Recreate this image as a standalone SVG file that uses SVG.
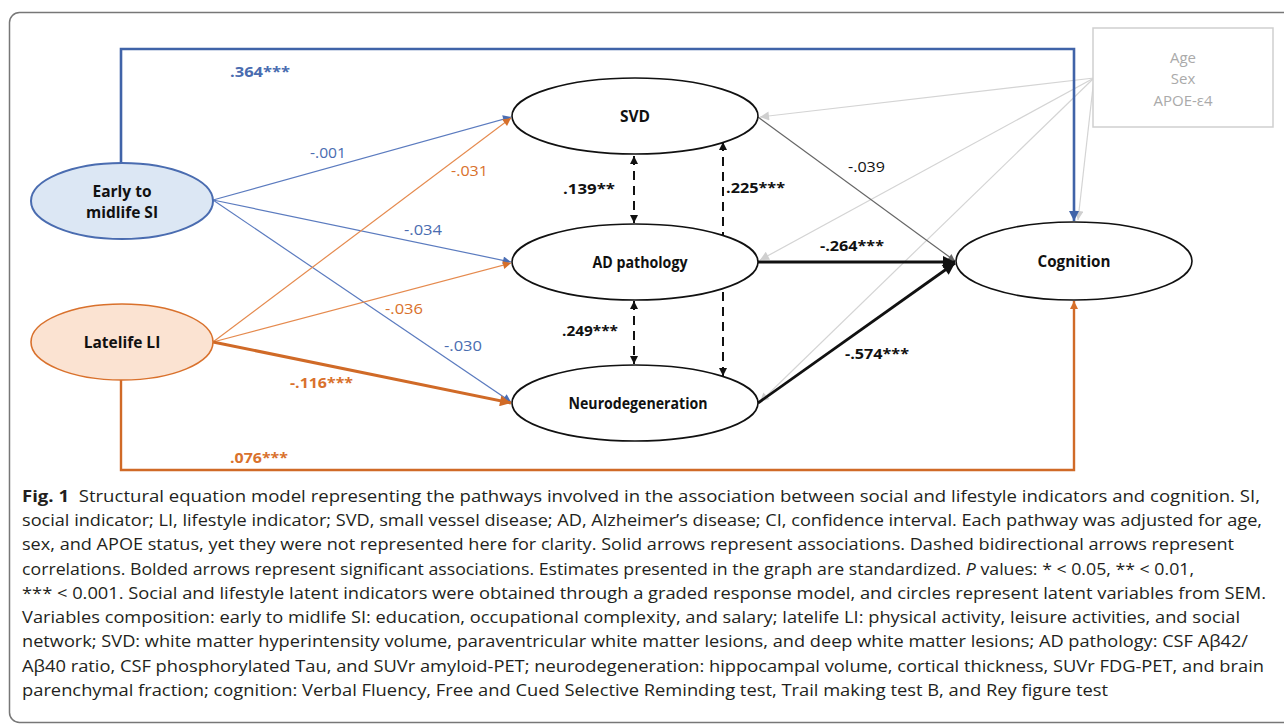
<svg xmlns="http://www.w3.org/2000/svg" width="1284" height="728" viewBox="0 0 1284 728">
<style>
.lbl{font-family:"Open Sans","Liberation Sans",sans-serif;font-size:15px}
.b{font-weight:bold}
.node{font-family:"Open Sans","Liberation Sans",sans-serif;font-size:15.5px;font-weight:bold;fill:#111;text-anchor:middle}
.cap{font-family:"Open Sans","Liberation Sans",sans-serif;font-size:16px;fill:#231f20}
.ell{fill:#fff;stroke:#111;stroke-width:1.6}
.blue{fill:#4a6cb0}
.orange{fill:#d9712c}
.blk{fill:#111}
</style>
<defs>
<marker id="aBlue" viewBox="0 0 10 10" refX="10" refY="5" markerWidth="10" markerHeight="8" markerUnits="userSpaceOnUse" orient="auto"><path d="M0,0 L10,5 L0,10 z" fill="#4a6db3"/></marker>
<marker id="aBlueB" viewBox="0 0 10 10" refX="10" refY="5" markerWidth="11" markerHeight="10" markerUnits="userSpaceOnUse" orient="auto"><path d="M0,0 L10,5 L0,10 z" fill="#4063a8"/></marker>
<marker id="aOr" viewBox="0 0 10 10" refX="10" refY="5" markerWidth="10" markerHeight="8" markerUnits="userSpaceOnUse" orient="auto"><path d="M0,0 L10,5 L0,10 z" fill="#d66f2a"/></marker>
<marker id="aOrB" viewBox="0 0 10 10" refX="10" refY="5" markerWidth="13" markerHeight="11" markerUnits="userSpaceOnUse" orient="auto"><path d="M0,0 L10,5 L0,10 z" fill="#d06a27"/></marker>
<marker id="aBlk" viewBox="0 0 10 10" refX="10" refY="5" markerWidth="14" markerHeight="12" markerUnits="userSpaceOnUse" orient="auto"><path d="M0,0 L10,5 L0,10 z" fill="#111"/></marker>
<marker id="aDash" viewBox="0 0 10 10" refX="10" refY="5" markerWidth="9" markerHeight="8" markerUnits="userSpaceOnUse" orient="auto-start-reverse"><path d="M0,0 L10,5 L0,10 z" fill="#111"/></marker>
<marker id="aGray" viewBox="0 0 10 10" refX="10" refY="5" markerWidth="9" markerHeight="7" markerUnits="userSpaceOnUse" orient="auto"><path d="M0,0 L10,5 L0,10 z" fill="#666"/></marker>
<marker id="aLight" viewBox="0 0 10 10" refX="10" refY="5" markerWidth="11" markerHeight="9" markerUnits="userSpaceOnUse" orient="auto"><path d="M0,0 L10,5 L0,10 z" fill="#cfcfcf"/></marker>
</defs>
<rect x="9.5" y="12.5" width="1300" height="710" rx="10" fill="#fff" stroke="#777" stroke-width="1.5"/>

<g id="connectors" fill="none">
  <g stroke="#d4d4d4" stroke-width="1.2" marker-end="url(#aLight)">
    <line x1="1094" y1="78" x2="760" y2="117"/>
    <line x1="1094" y1="78" x2="760" y2="260"/>
    <line x1="1094" y1="78" x2="760" y2="402"/>
    <line x1="1094" y1="78" x2="1078" y2="220"/>
  </g>
  <path d="M121,163 V49 H1074 V221" stroke="#4063a8" stroke-width="2.6" marker-end="url(#aBlueB)"/>
  <g stroke="#5b7bbf" stroke-width="1.2" marker-end="url(#aBlue)">
    <line x1="213" y1="200" x2="511" y2="117"/>
    <line x1="213" y1="200" x2="511" y2="262"/>
    <line x1="213" y1="200" x2="511" y2="402"/>
  </g>
  <g stroke="#e58a4e" stroke-width="1.2" marker-end="url(#aOr)">
    <line x1="213" y1="342" x2="511" y2="118"/>
    <line x1="213" y1="342" x2="511" y2="263"/>
  </g>
  <line x1="213" y1="342" x2="511" y2="403" stroke="#d06a27" stroke-width="3" marker-end="url(#aOrB)"/>
  <path d="M121,380 V470 H1074 V301" stroke="#d06a27" stroke-width="2.4" marker-end="url(#aOr)"/>
  <g stroke="#111" stroke-width="2" stroke-dasharray="9,6" marker-start="url(#aDash)" marker-end="url(#aDash)">
    <line x1="634" y1="156" x2="634" y2="223"/>
    <line x1="634" y1="301" x2="634" y2="364"/>
    <line x1="723" y1="142" x2="723" y2="376"/>
  </g>
  <line x1="758" y1="117" x2="955" y2="261" stroke="#666" stroke-width="1.2" marker-end="url(#aGray)"/>
  <line x1="758" y1="262" x2="955" y2="262" stroke="#111" stroke-width="2.8" marker-end="url(#aBlk)"/>
  <line x1="758" y1="403" x2="955" y2="263" stroke="#111" stroke-width="2.8" marker-end="url(#aBlk)"/>
</g>

<g id="node-early">
  <ellipse cx="122" cy="201" rx="91" ry="38" fill="#dce7f4" stroke="#4a6cb0" stroke-width="2"/>
  <text class="node" x="122" y="197">Early to</text>
  <text class="node" x="122" y="218">midlife SI</text>
</g>
<g id="node-latelife">
  <ellipse cx="122" cy="342" rx="91" ry="38" fill="#fbe3d2" stroke="#d9712c" stroke-width="1.6"/>
  <text class="node" x="122" y="348">Latelife LI</text>
</g>
<g id="node-svd">
  <ellipse class="ell" cx="635" cy="116" rx="123" ry="38"/>
  <text class="node" x="635" y="122">SVD</text>
</g>
<g id="node-ad">
  <ellipse class="ell" cx="635" cy="262" rx="123" ry="38"/>
  <text class="node" x="640" y="268" textLength="95" lengthAdjust="spacingAndGlyphs">AD pathology</text>
</g>
<g id="node-neuro">
  <ellipse class="ell" cx="635" cy="403" rx="123" ry="38"/>
  <text class="node" x="638" y="409" textLength="139" lengthAdjust="spacingAndGlyphs">Neurodegeneration</text>
</g>
<g id="node-cognition">
  <ellipse class="ell" cx="1074" cy="261" rx="118" ry="39"/>
  <text class="node" x="1074" y="267" textLength="73" lengthAdjust="spacingAndGlyphs">Cognition</text>
</g>
<g id="node-covariates">
  <rect x="1093" y="28" width="180" height="99" fill="#fff" stroke="#cfcfcf" stroke-width="1.5"/>
  <g font-family="'Open Sans','Liberation Sans',sans-serif" font-size="15" fill="#aaa" text-anchor="middle">
    <text x="1183" y="63">Age</text>
    <text x="1183" y="84">Sex</text>
    <text x="1183" y="106">APOE-ε4</text>
  </g>
</g>

<g id="edge-labels" class="lbl">
  <text class="b blue" x="230" y="77" textLength="60" lengthAdjust="spacingAndGlyphs">.364***</text>
  <text class="blue" x="310" y="158" textLength="36" lengthAdjust="spacingAndGlyphs">-.001</text>
  <text class="orange" x="451" y="176" textLength="37" lengthAdjust="spacingAndGlyphs">-.031</text>
  <text class="blue" x="404" y="235" textLength="38" lengthAdjust="spacingAndGlyphs">-.034</text>
  <text class="orange" x="385" y="314" textLength="38" lengthAdjust="spacingAndGlyphs">-.036</text>
  <text class="blue" x="444" y="351" textLength="38" lengthAdjust="spacingAndGlyphs">-.030</text>
  <text class="b orange" x="290" y="388" textLength="63" lengthAdjust="spacingAndGlyphs">-.116***</text>
  <text class="b orange" x="230" y="463" textLength="58" lengthAdjust="spacingAndGlyphs">.076***</text>
  <text class="b blk" x="563" y="194" textLength="52" lengthAdjust="spacingAndGlyphs">.139**</text>
  <text class="b blk" x="726" y="193" textLength="59" lengthAdjust="spacingAndGlyphs">.225***</text>
  <text class="b blk" x="562" y="336" textLength="56" lengthAdjust="spacingAndGlyphs">.249***</text>
  <text class="blk" x="848" y="172" textLength="37" lengthAdjust="spacingAndGlyphs">-.039</text>
  <text class="b blk" x="820" y="251" textLength="64" lengthAdjust="spacingAndGlyphs">-.264***</text>
  <text class="b blk" x="845" y="359" textLength="64" lengthAdjust="spacingAndGlyphs">-.574***</text>
</g>

<g id="caption" class="cap">
  <text x="22" y="502" textLength="1238" lengthAdjust="spacingAndGlyphs"><tspan font-weight="bold">Fig. 1</tspan>&#160;&#160;Structural equation model representing the pathways involved in the association between social and lifestyle indicators and cognition. SI,</text>
  <text x="22" y="526" textLength="1240" lengthAdjust="spacingAndGlyphs">social indicator; LI, lifestyle indicator; SVD, small vessel disease; AD, Alzheimer’s disease; CI, confidence interval. Each pathway was adjusted for age,</text>
  <text x="22" y="550" textLength="1212" lengthAdjust="spacingAndGlyphs">sex, and APOE status, yet they were not represented here for clarity. Solid arrows represent associations. Dashed bidirectional arrows represent</text>
  <text x="22" y="575" textLength="1172" lengthAdjust="spacingAndGlyphs">correlations. Bolded arrows represent significant associations. Estimates presented in the graph are standardized. <tspan font-style="italic">P</tspan> values: * &lt; 0.05, ** &lt; 0.01,</text>
  <text x="22" y="599" textLength="1244" lengthAdjust="spacingAndGlyphs">*** &lt; 0.001. Social and lifestyle latent indicators were obtained through a graded response model, and circles represent latent variables from SEM.</text>
  <text x="22" y="623" textLength="1218" lengthAdjust="spacingAndGlyphs">Variables composition: early to midlife SI: education, occupational complexity, and salary; latelife LI: physical activity, leisure activities, and social</text>
  <text x="22" y="647" textLength="1226" lengthAdjust="spacingAndGlyphs">network; SVD: white matter hyperintensity volume, paraventricular white matter lesions, and deep white matter lesions; AD pathology: CSF Aβ42/</text>
  <text x="22" y="672" textLength="1242" lengthAdjust="spacingAndGlyphs">Aβ40 ratio, CSF phosphorylated Tau, and SUVr amyloid-PET; neurodegeneration: hippocampal volume, cortical thickness, SUVr FDG-PET, and brain</text>
  <text x="22" y="696" textLength="1086" lengthAdjust="spacingAndGlyphs">parenchymal fraction; cognition: Verbal Fluency, Free and Cued Selective Reminding test, Trail making test B, and Rey figure test</text>
</g>
</svg>
